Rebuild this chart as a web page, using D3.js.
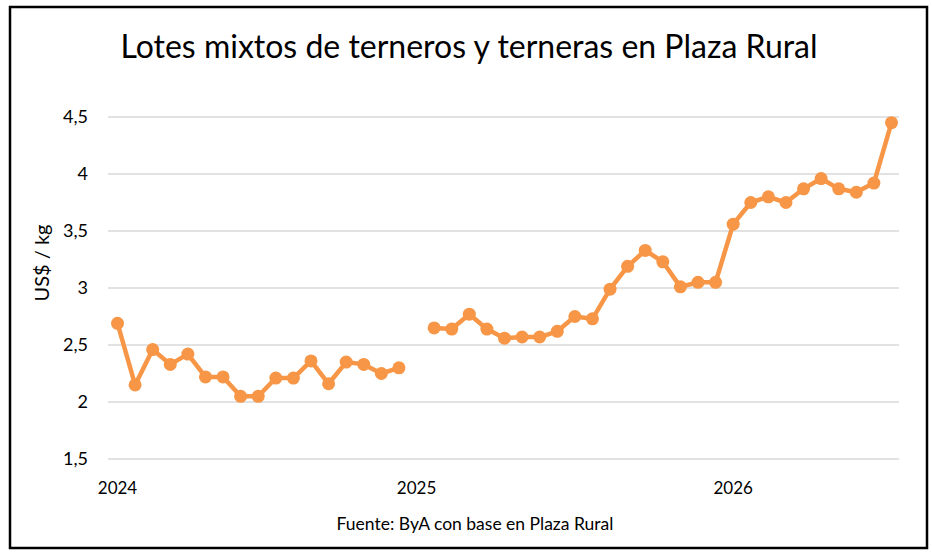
<!DOCTYPE html>
<html>
<head>
<meta charset="utf-8">
<script src="https://cdn.jsdelivr.net/npm/d3@7"></script>
<style>
  body { margin: 0; background: #fff; }
  text { font-family: Lato, "Open Sans", sans-serif; fill: #000; }
</style>
</head>
<body>
<svg id="chart" width="932" height="557"></svg>
<script>
// precios por remate (US$/kg); null = sin remate en esa posición
const values2024 = [2.69, 2.15, 2.46, 2.33, 2.42, 2.22, 2.22, 2.05, 2.05, 2.21, 2.21, 2.36, 2.16, 2.35, 2.33, 2.25, 2.30];
const valuesGap = [null];
const values2025 = [2.65, 2.64, 2.77, 2.64, 2.56, 2.57, 2.57, 2.62, 2.75, 2.73, 2.99, 3.19, 3.33, 3.23, 3.01, 3.05, 3.05,
                    3.56, 3.75, 3.80, 3.75, 3.87, 3.96, 3.87, 3.84, 3.92, 4.45];
const yearTickIndex = [0, 17, 35];
const yearTickLabels = ["2024", "2025", "2026"];
const yTicks = [1.5, 2, 2.5, 3, 3.5, 4, 4.5];

const values = values2024.concat(valuesGap, values2025);
const points = values.map((v, i) => ({ i: i, v: v }));

const svg = d3.select("#chart");
const orange = "#F79646";

// borde del gráfico
svg.append("rect")
    .attr("x", 10).attr("y", 7)
    .attr("width", 917).attr("height", 541)
    .attr("fill", "#fff")
    .attr("stroke", "#000")
    .attr("stroke-width", 2.5);

const x = d3.scaleLinear().domain([0, values.length - 1]).range([117.5, 891.5]);
const y = d3.scaleLinear().domain([1.5, 4.5]).range([459, 117]);

// grilla horizontal
svg.append("g")
    .selectAll("line")
    .data(yTicks)
    .join("line")
    .attr("x1", 108).attr("x2", 899)
    .attr("y1", d => y(d)).attr("y2", d => y(d))
    .attr("stroke", "#d9d9d9")
    .attr("stroke-width", 1.3);

// eje y
const yAxis = d3.axisLeft(y)
    .tickValues(yTicks)
    .tickSize(0)
    .tickPadding(0)
    .tickFormat(d => String(d).replace(".", ","));
const gy = svg.append("g").attr("transform", "translate(88,0)").call(yAxis);
gy.select(".domain").remove();
gy.selectAll("text").style("font-size", "18px").attr("font-family", null);

// eje x (años)
const gx = svg.append("g");
gx.selectAll("text")
    .data(yearTickIndex)
    .join("text")
    .attr("x", d => x(d))
    .attr("y", 494)
    .attr("text-anchor", "middle")
    .style("font-size", "17px")
    .text((d, k) => yearTickLabels[k]);

// línea y marcadores
const line = d3.line()
    .defined(d => d.v !== null)
    .x(d => x(d.i))
    .y(d => y(d.v));

svg.append("path")
    .datum(points)
    .attr("d", line)
    .attr("fill", "none")
    .attr("stroke", orange)
    .attr("stroke-width", 4.5)
    .attr("stroke-linejoin", "round");

svg.append("g")
    .selectAll("circle")
    .data(points.filter(d => d.v !== null))
    .join("circle")
    .attr("cx", d => x(d.i))
    .attr("cy", d => y(d.v))
    .attr("r", 6.5)
    .attr("fill", orange);

// textos
svg.append("text")
    .attr("x", 469).attr("y", 58)
    .attr("text-anchor", "middle")
    .style("font-size", "32px")
    .text("Lotes mixtos de terneros y terneras en Plaza Rural");

svg.append("text")
    .attr("transform", "translate(49,263) rotate(-90)")
    .attr("text-anchor", "middle")
    .style("font-size", "20px")
    .text("US$ / kg");

svg.append("text")
    .attr("x", 475).attr("y", 530)
    .attr("text-anchor", "middle")
    .style("font-size", "17.5px")
    .text("Fuente: ByA con base en Plaza Rural");
</script>
</body>
</html>
